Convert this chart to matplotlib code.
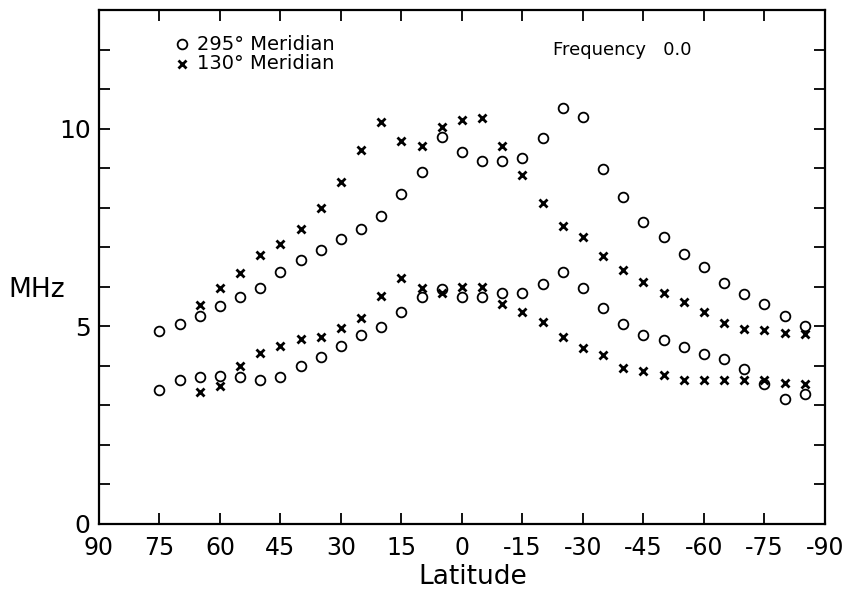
import matplotlib
matplotlib.use("Agg")
import matplotlib.pyplot as plt
import numpy as np

plt.rcParams['font.family'] = ['DejaVu Sans']

# latitudes (degrees), 5-degree steps
lat_295 = [75, 70, 65, 60, 55, 50, 45, 40, 35, 30, 25, 20, 15, 10, 5, 0,
           -5, -10, -15, -20, -25, -30, -35, -40, -45, -50, -55, -60, -65,
           -70, -75, -80, -85]
lat_130 = [65, 60, 55, 50, 45, 40, 35, 30, 25, 20, 15, 10, 5, 0, -5, -10,
           -15, -20, -25, -30, -35, -40, -45, -50, -55, -60, -65, -70, -75,
           -80, -85]

# 295 deg meridian (circles)
upper_295 = [4.87, 5.05, 5.27, 5.52, 5.73, 5.98, 6.38, 6.67, 6.94, 7.2, 7.46,
             7.78, 8.35, 8.9, 9.8, 9.4, 9.17, 9.19, 9.27, 9.76, 10.53, 10.3,
             8.98, 8.27, 7.63, 7.26, 6.84, 6.51, 6.1, 5.81, 5.56, 5.26, 5.02]
lower_295 = [3.38, 3.63, 3.71, 3.75, 3.73, 3.65, 3.73, 4.0, 4.23, 4.49, 4.77,
             4.99, 5.35, 5.74, 5.94, 5.75, 5.75, 5.85, 5.85, 6.08, 6.38, 5.96,
             5.46, 5.06, 4.79, 4.66, 4.47, 4.3, 4.17, 3.92, 3.53, 3.17, 3.29]

# 130 deg meridian (crosses)
upper_130 = [5.54, 5.98, 6.36, 6.8, 7.09, 7.46, 7.99, 8.66, 9.46, 10.18, 9.69,
             9.55, 10.05, 10.22, 10.26, 9.55, 8.82, 8.12, 7.53, 7.25, 6.78,
             6.42, 6.12, 5.85, 5.62, 5.37, 5.08, 4.93, 4.9, 4.84, 4.8]
lower_130 = [3.33, 3.5, 4.0, 4.32, 4.51, 4.69, 4.74, 4.95, 5.22, 5.77, 6.22,
             5.98, 5.85, 6.0, 6.0, 5.56, 5.35, 5.1, 4.74, 4.45, 4.28, 3.95,
             3.88, 3.77, 3.63, 3.63, 3.63, 3.64, 3.63, 3.56, 3.54]

xticks = [90, 75, 60, 45, 30, 15, 0, -15, -30, -45, -60, -75, -90]
xlabels = ['90', '75', '60', '45', '30', '15', '0', '-15', '-30', '-45',
           '-60', '-75', '-90']

fig = plt.figure(figsize=(8.43, 5.92), dpi=100)
ax = fig.add_axes([0.1174, 0.1149, 0.8612, 0.8681])

circ = dict(marker='o', linestyle='none', markersize=7, markerfacecolor='white',
            markeredgecolor='black', markeredgewidth=1.3)
cross = dict(marker='x', linestyle='none', markersize=6, color='black',
             markeredgewidth=2.0)

ax.plot(lat_295, upper_295, **circ)
ax.plot(lat_295, lower_295, **circ)
ax.plot(lat_130, upper_130, **cross)
ax.plot(lat_130, lower_130, **cross)

ax.set_xlim(90, -90)
ax.set_ylim(0, 13)
ax.set_xticks(xticks)
ax.set_xticklabels(xlabels, fontsize=17)
ax.set_yticks(np.arange(0, 13, 1))
ax.set_yticklabels(['0', '', '', '', '', '5', '', '', '', '', '10', '', ''],
                   fontsize=18)
ax.tick_params(direction='in', length=8, width=1.3, top=True, right=True)
ax.tick_params(axis='x', pad=9)
ax.tick_params(axis='y', pad=6)

for s in ax.spines.values():
    s.set_linewidth(1.6)

ax.set_xlabel('Latitude', fontsize=19)
ax.xaxis.set_label_coords(0.515, -0.078)
ax.set_ylabel('MHz', fontsize=19, rotation=0, va='center', ha='center')
ax.yaxis.set_label_coords(-0.086, 0.455)

# legend drawn as text, like the original annotation
ax.plot([69.5], [12.14], **circ)
ax.text(0.135, 12.14, '295° Meridian', transform=ax.get_yaxis_transform(),
        fontsize=14, va='center', ha='left')
ax.plot([69.5], [11.64], **cross)
ax.text(0.135, 11.64, '130° Meridian', transform=ax.get_yaxis_transform(),
        fontsize=14, va='center', ha='left')
ax.text(0.625, 11.99, 'Frequency   0.0', transform=ax.get_yaxis_transform(),
        fontsize=13, va='center', ha='left')

fig.savefig('out.png', dpi=100)
